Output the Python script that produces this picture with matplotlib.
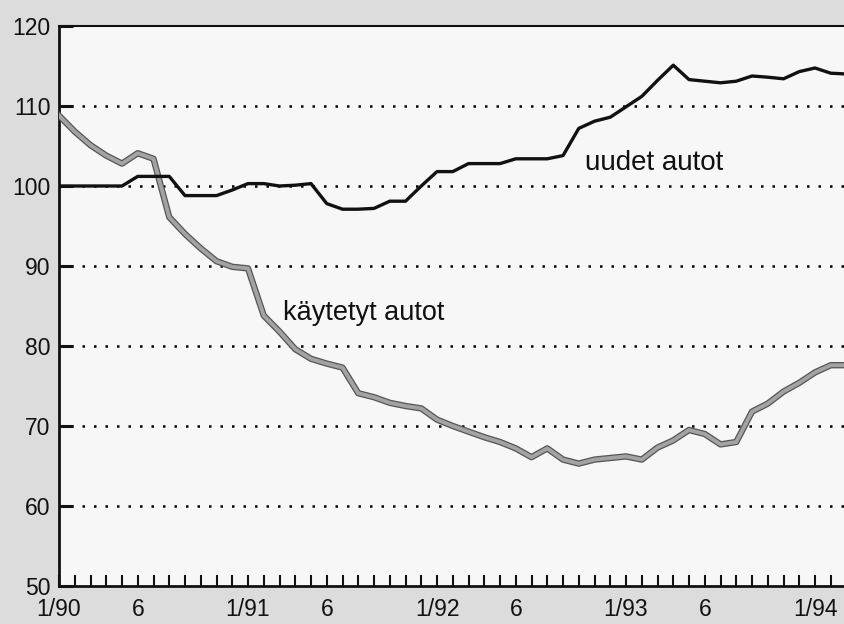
import numpy as np
import matplotlib
matplotlib.use("Agg")
import matplotlib.pyplot as plt

plt.rcParams['font.family'] = ['Liberation Sans', 'DejaVu Sans']

# monthly index values, 1/90 onwards
uudet = [100, 100, 100, 100, 100, 101.2, 101.2, 101.2, 98.8, 98.8,
         98.8, 99.5, 100.3, 100.3, 100.0, 100.1, 100.3, 97.8, 97.1, 97.1,
         97.2, 98.1, 98.1, 100.0, 101.8, 101.8, 102.8, 102.8, 102.8, 103.4,
         103.4, 103.4, 103.8, 107.2, 108.1, 108.6, 109.9, 111.2, 113.2, 115.1,
         113.3, 113.1, 112.9, 113.1, 113.75, 113.6, 113.4, 114.3, 114.75, 114.1,
         114.0]
kaytetyt = [108.8, 106.8, 105.1, 103.8, 102.8, 104.1, 103.4, 96.1, 94.0, 92.2,
            90.6, 89.9, 89.7, 83.8, 81.8, 79.6, 78.4, 77.8, 77.3, 74.1,
            73.6, 72.9, 72.5, 72.2, 70.8, 70.0, 69.3, 68.6, 68.0, 67.2,
            66.1, 67.2, 65.8, 65.3, 65.8, 66.0, 66.2, 65.8, 67.3, 68.2,
            69.5, 69.0, 67.7, 68.0, 71.8, 72.8, 74.3, 75.4, 76.7, 77.6,
            77.6]

label_pos = [0, 5, 12, 17, 24, 29, 36, 41, 48]
label_txt = ['1/90', '6', '1/91', '6', '1/92', '6', '1/93', '6', '1/94']
yticks = [50, 60, 70, 80, 90, 100, 110, 120]

months = np.arange(len(uudet))

fig = plt.figure(figsize=(8.44, 6.24), dpi=100, facecolor='#dcdcdc')
ax = fig.add_axes([59 / 844, 1 - 586 / 624, 1 - 59 / 844, 560 / 624])
ax.set_facecolor('#f7f7f7')

for g in yticks[1:-1]:
    ax.axhline(g, color='black', lw=1.8, linestyle=(0, (1, 3.6)), zorder=1)

ax.plot(months, kaytetyt, color='#555555', lw=4.6, zorder=3)
ax.plot(months, kaytetyt, color='#a3a3a3', lw=2.8, zorder=4)
ax.plot(months, uudet, color='#111111', lw=2.4, zorder=5)

ax.text(33.4, 102.0, 'uudet autot', fontsize=20, color='#111111', zorder=6)
ax.text(14.2, 83.2, 'käytetyt autot', fontsize=19.5, color='#111111', zorder=6)

ax.set_xlim(0, 49.84)
ax.set_ylim(50, 120)

ax.set_yticks(yticks)
ax.set_yticklabels([str(v) for v in yticks])
ax.tick_params(axis='y', direction='in', length=10, width=2.2, pad=6,
               labelsize=16.5, colors='#111111')

xt = list(range(0, 50))
xl = [label_txt[label_pos.index(m)] if m in label_pos else '' for m in xt]
ax.set_xticks(xt)
ax.set_xticklabels(xl)
ax.tick_params(axis='x', direction='in', length=8, width=1.5, pad=9,
               labelsize=16.5, colors='#111111')

for s in ['left', 'bottom']:
    ax.spines[s].set_linewidth(2.0)
    ax.spines[s].set_color('#111111')
ax.spines['top'].set_linewidth(1.5)
ax.spines['top'].set_color('#111111')
ax.spines['right'].set_visible(False)

fig.savefig('out.png', dpi=100, facecolor=fig.get_facecolor())
